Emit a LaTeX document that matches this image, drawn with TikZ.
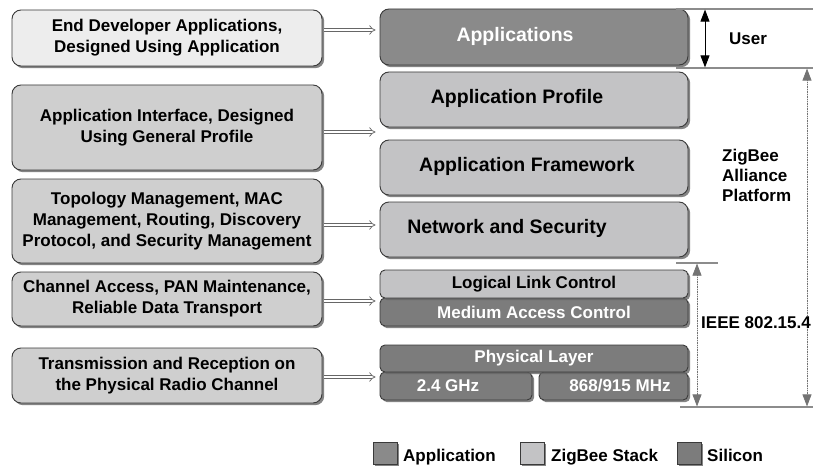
\documentclass[tikz,border=0pt]{standalone}
\usepackage{fontspec}
\setmainfont{Liberation Sans}
\usetikzlibrary{arrows.meta,shadows,calc}
\definecolor{lboxA}{HTML}{EDEDED}
\definecolor{lboxB}{HTML}{CFCFCF}
\definecolor{appc}{HTML}{8A8A8A}
\definecolor{zigc}{HTML}{C3C3C5}
\definecolor{silc}{HTML}{7C7C7C}
\definecolor{edge}{HTML}{3A3A3A}
\definecolor{rule}{HTML}{8C8C8C}
\tikzset{
  boxbase/.style={draw=edge, line width=0.9pt, inner sep=0pt, align=center,
    font=\bfseries\fontsize{17}{21}\selectfont,
    drop shadow={shadow xshift=2.2pt, shadow yshift=-2.2pt, fill=black!60, opacity=0.8}},
  lbox/.style={boxbase, rounded corners=9pt, minimum width=310pt, text=black},
  rbig/.style={boxbase, rounded corners=9pt, minimum width=308pt, minimum height=55pt,
    font=\bfseries\fontsize{19.5}{23}\selectfont},
  rsmall/.style={boxbase, rounded corners=5pt, minimum height=28pt},
  darr/.style={draw=black!60, double=white, double distance=2.6pt, line width=0.7pt,
    -{Implies[scale=1.6]}},
  vline/.style={draw=rule, line width=1.2pt},
  varr/.style={{Triangle[length=12pt,width=9pt]}-{Triangle[length=12pt,width=9pt]}},
  lbl/.style={font=\bfseries\fontsize{17}{20}\selectfont, inner sep=0pt},
  legbox/.style={draw=edge, line width=0.9pt, minimum width=24pt, minimum height=22pt, inner sep=0pt,
    drop shadow={shadow xshift=1.5pt, shadow yshift=-1.5pt, fill=black!60, opacity=0.8}}
}
\begin{document}
\begin{tikzpicture}[x=1pt,y=-1pt]
\useasboundingbox[fill=white] (0,0) rectangle (813,468);
% left boxes
\node[lbox, fill=lboxA, minimum height=56pt] (L1) at (167,38) {End Developer Applications,\\Designed Using Application};
\node[lbox, fill=lboxB, minimum height=85pt] (L2) at (167,127.5) {Application Interface, Designed\\Using General Profile};
\node[lbox, fill=lboxB, minimum height=84pt] (L3) at (167,221) {Topology Management, MAC\\Management, Routing, Discovery\\Protocol, and Security Management};
\node[lbox, fill=lboxB, minimum height=54pt] (L4) at (167,299) {Channel Access, PAN Maintenance,\\Reliable Data Transport};
\node[lbox, fill=lboxB, minimum height=55pt] (L5) at (167,375.5) {Transmission and Reception on\\the Physical Radio Channel};
% right stack
\node[rbig, fill=appc, minimum height=56pt] (R1) at (534,37) {};
\node[text=white, font=\bfseries\fontsize{19.5}{23}\selectfont] (R1t) at (515,36) {Applications};
\node[rbig, fill=zigc] (R2) at (534,99.5) {};
\node[font=\bfseries\fontsize{19.5}{23}\selectfont] (R2t) at (517,98) {Application Profile};
\node[rbig, fill=zigc] (R3) at (534,167.5) {};
\node[font=\bfseries\fontsize{19.5}{23}\selectfont] (R3t) at (527,166) {Application Framework};
\node[rbig, fill=zigc] (R4) at (534,229.5) {};
\node[font=\bfseries\fontsize{19.5}{23}\selectfont] (R4t) at (507,228) {Network and Security};
\node[rsmall, fill=silc, minimum width=308pt, text=white] (R6) at (534,312) {Medium Access Control};
\node[rsmall, fill=zigc, minimum width=308pt] (R5) at (534,284) {Logical Link Control};
\node[rsmall, fill=silc, minimum width=152pt] (R8) at (456,386) {};
\node[text=white, font=\bfseries\fontsize{17}{20}\selectfont] (R8t) at (448,386) {2.4 GHz};
\node[rsmall, fill=silc, minimum width=149pt] (R9) at (613.5,386) {};
\node[text=white, font=\bfseries\fontsize{17}{20}\selectfont] (R9t) at (620,386) {868/915 MHz};
\node[rsmall, fill=silc, minimum width=308pt, minimum height=27pt, text=white] (R7) at (534,358.5) {Physical Layer};
% double arrows
\draw[darr] ([xshift=2pt,yshift=8pt]L1.east) -- ([xshift=-4pt,yshift=8pt]L1.east -| R1.west);
\draw[darr] ([xshift=2pt,yshift=-4.5pt]L2.east) -- ([xshift=-4pt,yshift=-4.5pt]L2.east -| R2.west);
\draw[darr] ([xshift=2pt,yshift=-4pt]L3.east) -- ([xshift=-4pt,yshift=-4pt]L3.east -| R4.west);
\draw[darr] ([xshift=2pt,yshift=-2pt]L4.east) -- ([xshift=-4pt,yshift=-2pt]L4.east -| R5.west);
\draw[darr] ([xshift=2pt,yshift=-1.5pt]L5.east) -- ([xshift=-4pt,yshift=-1.5pt]L5.east -| R7.west);
% right annotations
\coordinate (t0) at (676,9); \coordinate (t1) at (813,9);
\coordinate (u0) at (676,68); \coordinate (u1) at (813,68);
\coordinate (i0) at (676,263); \coordinate (i1) at (718,263);
\coordinate (b0) at (680,407); \coordinate (b1) at (813,407);
\draw[vline] (t0) -- (t1);
\draw[vline] (u0) -- (u1);
\draw[vline] (i0) -- (i1);
\draw[vline] (b0) -- (b1);
\coordinate (ua) at (705,9.6); \coordinate (ub) at (705,67.4);
\draw[varr, line width=0.9pt] (ua) -- (ub);
\coordinate (za) at (807,68.6); \coordinate (zb) at (807,406.4);
\draw[varr, densely dotted, draw=black!55, line width=0.7pt, fill=black] (za) -- (zb);
\coordinate (ia) at (697,263.6); \coordinate (ib) at (697,406.4);
\draw[varr, densely dotted, draw=black!55, line width=0.7pt, fill=black] (ia) -- (ib);
\node[lbl] (user) at (748,39) {User};
\node[lbl, align=left, anchor=west] (zig) at (722,175) {ZigBee\\Alliance\\Platform};
\node[lbl] (ieee) at (756,323) {IEEE 802.15.4};
% legend
\node[legbox, fill=appc] (g1) at (385,453) {};
\node[lbl, anchor=base west] (g1t) at (403,461) {Application};
\node[legbox, fill=zigc] (g2) at (532,453) {};
\node[lbl, anchor=base west] (g2t) at (551,461) {ZigBee Stack};
\node[legbox, fill=silc] (g3) at (689,453) {};
\node[lbl, anchor=base west] (g3t) at (707,461) {Silicon};
\end{tikzpicture}
\end{document}
